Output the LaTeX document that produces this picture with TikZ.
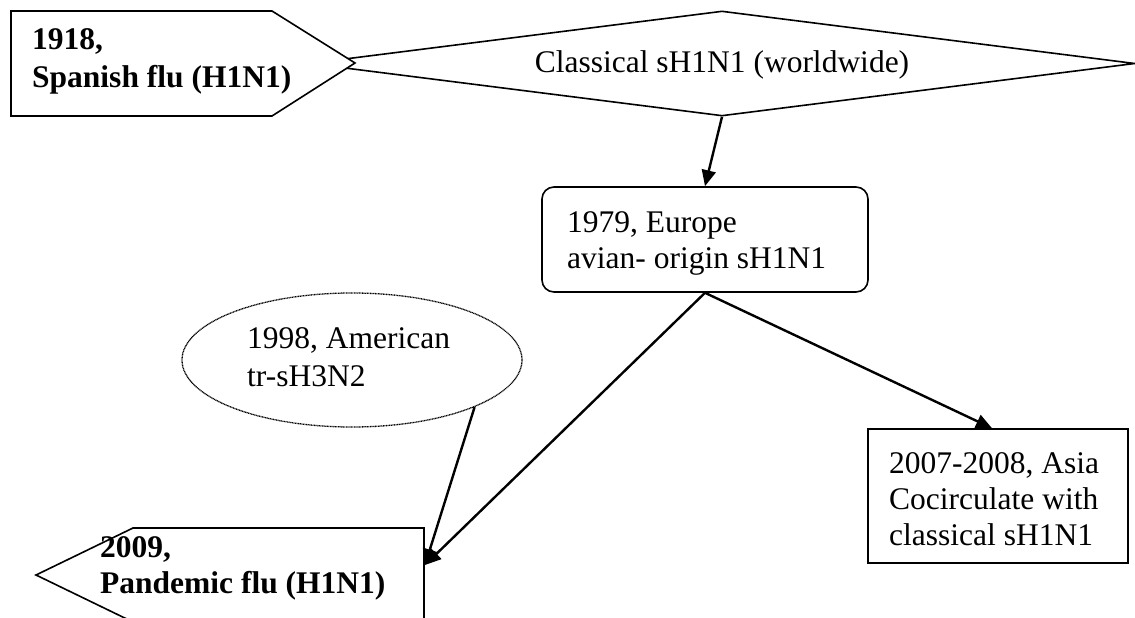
\documentclass[tikz,border=0pt]{standalone}
\usepackage{fontspec}
\setmainfont{Liberation Serif}
\usetikzlibrary{shapes.geometric,arrows.meta,calc}
\begin{document}
\begin{tikzpicture}[x=1pt,y=-1pt,
  shapeline/.style={draw=black,line width=1.6pt,fill=white},
  txt/.style={anchor=base west,inner sep=0pt,font=\fontsize{31.5}{36}\selectfont},
  btxt/.style={txt,font=\fontsize{31.5}{36}\selectfont\bfseries},
  conn/.style={draw=black,line width=2.4pt,-{Triangle[length=16pt,width=14pt]}},
  ]
\useasboundingbox (0,0) rectangle (1135,618);
\clip (0,0) rectangle (1135,618);
\fill[white] (0,0) rectangle (1135,618);
% diamond
\node[shapeline,diamond,minimum width=826pt,minimum height=105pt,inner sep=0pt] (dia) at (722,63.5) {};
\node[txt,anchor=base] (diat) at (722,73) {Classical sH1N1 (worldwide)};
% top-left pentagon
\draw[shapeline,line join=miter] (11,11) -- (272,11) -- (355,63) -- (272,116) -- (11,116) -- cycle;
\node[btxt] (t1a) at (32,50) {1918,};
\node[btxt] (t1b) at (32,88) {Spanish flu (H1N1)};
% rounded box
\node[shapeline,rectangle,rounded corners=12pt,minimum width=326pt,minimum height=105pt,inner sep=0pt] (eur) at (705,239.5) {};
\node[txt] (eura) at (567,232) {1979, Europe};
\node[txt] (eurb) at (567,268) {avian- origin sH1N1};
% ellipse
\node[ellipse,draw=black,line width=1.3pt,dash pattern=on 1pt off 0.6pt,fill=white,minimum width=340pt,minimum height=134pt,inner sep=0pt] (ame) at (352,360) {};
\node[txt] (amea) at (247,348) {1998, American};
\node[txt] (ameb) at (247,386) {tr-sH3N2};
% right box
\node[shapeline,rectangle,minimum width=260pt,minimum height=134pt,inner sep=0pt] (asia) at (998,496) {};
\node[txt] (asiaa) at (889,473) {2007-2008, Asia};
\node[txt] (asiab) at (889,509) {Cocirculate with};
\node[txt] (asiac) at (889,545) {classical sH1N1};
% bottom pentagon
\draw[shapeline,line join=miter] (424,622) -- (424,528) -- (133,528) -- (36,575) -- (133,622) -- cycle;
\coordinate (pand) at (425,565);
\node[btxt] (pa) at (100,557) {2009,};
\node[btxt] (pb) at (100,593) {Pandemic flu (H1N1)};
% connectors
\draw[conn] (dia.south) -- (eur.north);
\draw[conn] (eur.south) -- ([xshift=-6pt]asia.north);
\draw[conn] (eur.south) -- (pand);
\draw[conn] (ame.-21.4) -- (pand);
\end{tikzpicture}
\end{document}
